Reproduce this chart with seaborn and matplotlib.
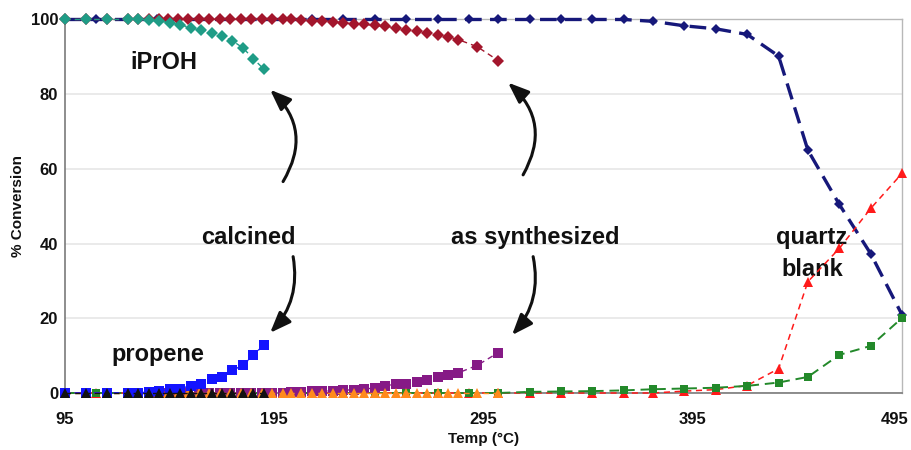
import matplotlib
matplotlib.use("Agg")
import matplotlib.pyplot as plt
import matplotlib.transforms as mtransforms
import seaborn as sns

# ---- calcined catalyst run ----
calc_temp = [95, 105, 115, 125, 130, 135, 140, 145, 150, 155, 160, 165, 170, 175, 180, 185, 190]
calc_iproh = [100, 100, 100, 100, 100, 99.9, 99.6, 99.1, 98.6, 97.8, 97.2, 96.5, 95.5, 94.3, 92.4, 89.5, 86.7]
calc_propene = [0, 0, 0, 0.1, 0.1, 0.2, 0.5, 1.0, 1.2, 1.9, 2.5, 3.7, 4.4, 6.1, 7.4, 10.1, 12.9]
calc_other = [0, 0, 0, 0, 0, 0, 0, 0, 0, 0, 0, 0, 0, 0, 0, 0, 0]

# ---- as-synthesized catalyst run ----
syn_temp = [95, 105, 115, 125, 130, 135, 140, 144, 149, 154, 159, 164, 169, 174, 179, 184, 189,
            194, 199, 203, 208, 213, 218, 223, 228, 233, 238, 243, 248, 253, 258, 263, 268,
            273, 278, 283, 292, 302]
syn_iproh = [100, 100, 100, 100, 100, 100, 100, 100, 100, 100, 100, 100, 100, 100, 100, 100, 100,
             100, 100, 100, 99.9, 99.7, 99.7, 99.4, 99.1, 98.8, 98.7, 98.4, 98.2, 97.8, 97.3, 96.9, 96.4,
             95.8, 95.3, 94.6, 92.7, 89.0]
syn_propene = [0, 0, 0, 0, 0, 0, 0, 0, 0, 0, 0, 0, 0, 0, 0, 0, 0,
               0, 0, 0.2, 0.2, 0.45, 0.45, 0.6, 0.7, 0.9, 1.1, 1.3, 2.0, 2.3, 2.5, 3.0, 3.4,
               4.2, 4.7, 5.4, 7.4, 10.8]
syn_other = [0, 0, 0, 0, 0, 0, 0, 0, 0, 0, 0, 0, 0, 0, 0, 0, 0,
             0, 0, 0, 0, 0, 0, 0, 0, 0, 0, 0, 0, 0, 0, 0, 0,
             0, 0, 0, 0, 0]

# ---- empty quartz reactor ----
qz_temp = [95, 110, 125, 139, 154, 169, 184, 199, 213, 228, 243, 258, 273, 288, 302, 317, 332,
           347, 362, 376, 391, 406, 421, 436, 450, 465, 480, 495]
qz_iproh = [100, 100, 100, 100, 100, 100, 100, 100, 100, 100, 100, 100, 100, 100, 100, 100, 100,
            100, 100, 99.5, 98.3, 97.5, 96.0, 90.2, 65.0, 50.5, 37.3, 20.9]
qz_propene = [0, 0, 0, 0, 0, 0, 0, 0, 0, 0, 0, 0, 0, 0, 0, 0, 0,
              0, 0, 0, 0.5, 0.9, 2.0, 6.5, 29.8, 38.7, 49.4, 58.8]
qz_other = [0, 0, 0, 0, 0, 0, 0, 0, 0, 0, 0, 0, 0, 0, 0, 0.3, 0.4,
            0.5, 0.7, 1.0, 1.2, 1.4, 1.9, 2.8, 4.3, 10.2, 12.6, 20.1]

x_ticks = [95, 195, 295, 395, 495]
y_ticks = [0, 20, 40, 60, 80, 100]

sns.set_theme(style="white")
plt.rcParams["font.family"] = ["Liberation Sans", "DejaVu Sans"]

fig = plt.figure(figsize=(9.12, 4.5), dpi=100)
ax = fig.add_axes([0.0713, 0.1267, 0.9178, 0.83])


def series(x, y, color, marker, ms, ls, lw, z, mew=0):
    sns.lineplot(x=x, y=y, ax=ax, color=color, marker=marker, markersize=ms,
                 markeredgewidth=mew, markeredgecolor=color, linestyle=ls,
                 linewidth=lw, sort=False, estimator=None, clip_on=False, zorder=z)


# quartz blank
series(qz_temp, qz_iproh, "#16187a", "D", 5.5, (0, (5, 2.5)), 2.4, 3)
series(qz_temp, qz_propene, "#ff1a1a", "^", 7.5, (0, (4, 3)), 1.1, 4)
series(qz_temp, qz_other, "#23892a", "s", 5.5, (0, (5, 3)), 1.4, 4)

# as synthesized
series(syn_temp, syn_iproh, "#a3162c", "D", 6, (0, (4, 3)), 1.0, 5)
series(syn_temp, syn_other, "#ff8a1c", "^", 7.5, (0, (4, 3)), 1.0, 6)
series(syn_temp, syn_propene, "#861a86", "s", 6.5, (0, (4, 3)), 1.0, 5)

# calcined
series(calc_temp, calc_propene, "#1414ff", "s", 6.5, (0, (4, 3)), 1.0, 6)
series(calc_temp, calc_other, "#111111", "^", 7, (0, (4, 3)), 1.0, 7)
series(calc_temp, calc_iproh, "#1f9c86", "D", 6, (0, (4, 3)), 1.0, 7)

ax.set_xlim(95, 495)
ax.set_ylim(0, 100)
ax.set_xticks(x_ticks)
ax.set_yticks(y_ticks)
ax.set_xticklabels([str(v) for v in x_ticks], fontweight="bold", fontsize=12, color="#111111")
ax.set_yticklabels([str(v) for v in y_ticks], fontweight="bold", fontsize=12, color="#111111")
ax.tick_params(axis="x", length=0, pad=14)
ax.tick_params(axis="y", length=3, width=1, color="#808080", pad=2, direction="out")
# keep the last temperature label inside the canvas
last = ax.get_xticklabels()[-1]
last.set_transform(last.get_transform() + mtransforms.ScaledTranslation(-7 / 100, 0, fig.dpi_scale_trans))

ax.set_xlabel("Temp (°C)", fontweight="bold", fontsize=11, color="#111111", labelpad=3)
ax.set_ylabel("% Conversion", fontweight="bold", fontsize=11, color="#111111", labelpad=4)

ax.grid(axis="y", color="#e6e6e6", linewidth=1.2)
ax.grid(axis="x", visible=False)
ax.set_axisbelow(True)
for side in ("top", "right"):
    ax.spines[side].set_color("#b8b8b8")
    ax.spines[side].set_linewidth(1.0)
for side in ("left", "bottom"):
    ax.spines[side].set_color("#7a7a7a")
    ax.spines[side].set_linewidth(1.2)

# text labels
label_kw = dict(fontweight="bold", fontsize=17, color="#111111", ha="center", va="center")
ax.text(142, 88.5, "iPrOH", **label_kw)
ax.text(139.5, 10.2, "propene", **label_kw)
ax.text(182.5, 41.5, "calcined", **label_kw)
ax.text(319.5, 41.5, "as synthesized", **label_kw)
ax.text(452, 41.5, "quartz", **label_kw)
ax.text(452, 33, "blank", **label_kw)

# curved arrows pointing at each family of curves
arrow_style = "-|>,head_length=0.9,head_width=0.35"


def curved_arrow(start, tip, rad):
    ax.annotate("", xy=tip, xytext=start,
                arrowprops=dict(arrowstyle=arrow_style, color="#111111", lw=2.2,
                                mutation_scale=14, shrinkA=0, shrinkB=0,
                                connectionstyle=f"arc3,rad={rad}"))


curved_arrow((199.2, 56.6), (193.0, 81.2), 0.4)
curved_arrow((204.0, 36.5), (193.0, 16.1), -0.25)
curved_arrow((313.9, 58.4), (306.7, 83.1), 0.4)
curved_arrow((318.7, 36.5), (308.6, 15.5), -0.25)

fig.savefig("out.png", dpi=100, facecolor="white")
